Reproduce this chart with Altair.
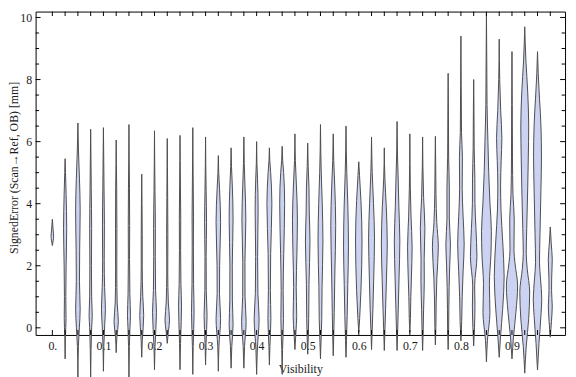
import altair as alt
import pandas as pd

# Visibility bins (one violin each)
visibility = [0.0, 0.025, 0.05, 0.075, 0.1, 0.125, 0.15, 0.175, 0.2, 0.225,
              0.25, 0.275, 0.3, 0.325, 0.35, 0.375, 0.4, 0.425, 0.45, 0.475,
              0.5, 0.525, 0.55, 0.575, 0.6, 0.625, 0.65, 0.675, 0.7, 0.725,
              0.75, 0.775, 0.8, 0.825, 0.85, 0.875, 0.9, 0.925, 0.95, 0.975]

# Violin profiles: (SignedError [mm], relative density half-width)
group_0 = [
    [(2.65, 0), (2.8, 0.8), (2.95, 1.3), (3.15, 0.8), (3.5, 0)],
    [(-1.0, 0), (-0.3, 0.3), (0.3, 0.9), (1.0, 0.7), (2.0, 1.0), (3.2, 1.6), (4.3, 1.0), (5.0, 0.4), (5.45, 0)],
    [(-1.6, 0), (-0.6, 0.5), (0.0, 1.5), (0.6, 2.3), (1.5, 1.6), (2.5, 1.8), (3.8, 2.3), (4.8, 1.6), (5.7, 0.6), (6.6, 0)],
    [(-1.6, 0), (-0.7, 0.4), (0.0, 1.0), (0.4, 1.6), (1.0, 1.0), (2.0, 0.8), (3.2, 1.0), (4.5, 0.6), (5.5, 0.3), (6.4, 0)],
]
group_1 = [
    [(-1.4, 0), (-0.6, 0.4), (0.1, 1.3), (0.6, 2.0), (1.3, 1.2), (2.2, 0.8), (3.3, 1.0), (4.5, 0.6), (5.5, 0.3), (6.45, 0)],
    [(-0.8, 0), (-0.3, 0.7), (0.2, 2.2), (0.8, 1.0), (1.8, 0.6), (3.2, 0.7), (4.5, 0.5), (5.3, 0.2), (6.05, 0)],
    [(-1.6, 0), (-0.6, 0.4), (0.0, 1.0), (0.4, 1.5), (1.1, 0.9), (2.2, 0.6), (3.3, 0.7), (4.5, 0.5), (5.5, 0.2), (6.55, 0)],
    [(-0.95, 0), (-0.4, 0.6), (0.4, 2.0), (1.0, 1.1), (2.0, 0.5), (3.0, 0.5), (4.0, 0.3), (4.95, 0)],
]
group_2 = [
    [(-1.35, 0), (-0.6, 0.5), (0.5, 2.0), (1.2, 1.1), (2.3, 0.8), (3.2, 0.9), (4.4, 0.5), (5.4, 0.2), (6.35, 0)],
    [(-0.5, 0), (-0.1, 1.2), (0.25, 2.3), (0.8, 1.1), (1.8, 0.5), (3.0, 0.6), (4.2, 0.4), (5.2, 0.2), (6.1, 0)],
    [(-1.35, 0), (-0.5, 0.5), (0.2, 1.2), (0.7, 1.5), (1.4, 0.9), (2.5, 0.6), (3.5, 0.7), (4.6, 0.4), (5.4, 0.2), (6.2, 0)],
    [(-1.5, 0), (-0.6, 0.4), (0.5, 1.3), (1.4, 0.8), (2.6, 0.6), (3.6, 0.7), (4.7, 0.4), (5.5, 0.2), (6.45, 0)],
]
group_3 = [
    [(-1.2, 0), (-0.5, 0.5), (0.4, 1.5), (1.2, 0.7), (2.3, 0.6), (3.4, 1.0), (4.4, 0.6), (5.3, 0.2), (6.15, 0)],
    [(-1.4, 0), (-0.6, 0.6), (0.3, 2.3), (1.1, 1.2), (2.0, 1.3), (3.4, 2.3), (4.5, 1.2), (5.0, 0.4), (5.55, 0)],
    [(-1.3, 0), (-0.6, 0.7), (0.1, 2.0), (0.9, 1.3), (2.0, 1.2), (3.5, 2.0), (4.6, 1.2), (5.2, 0.4), (5.8, 0)],
    [(-1.3, 0), (-0.6, 0.7), (0.2, 2.3), (1.0, 1.2), (2.1, 1.1), (3.5, 2.0), (4.6, 1.1), (5.3, 0.4), (6.15, 0)],
]
group_4 = [
    [(-1.5, 0), (-0.7, 0.7), (0.3, 2.5), (1.1, 1.3), (2.3, 1.0), (3.8, 1.5), (4.8, 0.9), (5.3, 0.3), (6.0, 0)],
    [(-1.2, 0), (-0.6, 0.5), (0.3, 1.5), (1.2, 1.0), (2.4, 1.3), (4.0, 2.5), (5.0, 1.3), (5.4, 0.4), (5.8, 0)],
    [(-1.5, 0), (-0.7, 0.4), (0.3, 1.3), (1.2, 1.0), (2.4, 1.6), (4.0, 2.5), (5.0, 1.5), (5.4, 0.5), (5.85, 0)],
    [(-0.7, 0), (-0.2, 0.9), (0.4, 1.8), (1.3, 1.3), (2.4, 2.0), (3.5, 2.5), (4.6, 1.5), (5.4, 0.4), (6.25, 0)],
]
group_5 = [
    [(-0.85, 0), (-0.3, 0.6), (0.3, 1.0), (1.4, 1.3), (2.8, 2.3), (3.7, 1.6), (4.5, 1.3), (5.2, 0.5), (5.95, 0)],
    [(-1.0, 0), (-0.4, 0.6), (0.3, 1.3), (1.3, 1.6), (2.8, 2.5), (4.0, 1.8), (5.0, 0.8), (5.7, 0.3), (6.55, 0)],
    [(-0.9, 0), (-0.3, 0.5), (0.5, 1.0), (1.7, 1.6), (3.3, 2.5), (4.6, 1.5), (5.4, 0.5), (6.25, 0)],
    [(-0.95, 0), (-0.4, 0.5), (0.4, 1.2), (1.4, 1.8), (2.6, 2.5), (3.9, 1.9), (5.0, 0.8), (5.7, 0.3), (6.5, 0)],
]
group_6 = [
    [(-0.15, 0), (0.3, 0.9), (1.2, 2.2), (2.8, 3.3), (4.1, 2.2), (4.9, 0.8), (5.35, 0)],
    [(-0.7, 0), (-0.2, 0.5), (0.6, 1.4), (1.7, 2.3), (2.9, 3.0), (4.0, 2.0), (5.0, 0.7), (5.5, 0.3), (6.15, 0)],
    [(-0.73, 0), (-0.2, 0.5), (0.6, 1.3), (1.6, 2.2), (2.7, 3.0), (3.9, 2.0), (4.8, 0.6), (5.8, 0)],
    [(-0.73, 0), (-0.2, 0.5), (0.6, 1.2), (1.6, 2.0), (2.8, 2.8), (3.9, 1.8), (4.7, 1.2), (5.6, 0.4), (6.65, 0)],
]
group_7 = [
    [(-0.15, 0), (0.3, 0.6), (1.0, 1.0), (1.6, 1.6), (2.6, 2.3), (3.6, 1.2), (4.5, 0.5), (5.3, 0.2), (6.25, 0)],
    [(-0.73, 0), (-0.2, 0.5), (0.6, 1.0), (1.5, 1.7), (2.2, 1.6), (3.2, 2.3), (4.2, 1.0), (5.2, 0.3), (6.15, 0)],
    [(-0.55, 0), (0.0, 0.5), (0.8, 0.8), (1.6, 1.5), (2.6, 3.0), (3.4, 1.4), (4.3, 0.6), (5.3, 0.3), (6.17, 0)],
    [(-0.7, 0), (-0.1, 0.5), (0.6, 0.7), (1.3, 1.0), (2.0, 1.6), (2.7, 2.3), (3.5, 1.2), (4.5, 1.2), (5.5, 0.5), (6.8, 0.3), (8.2, 0)],
]
group_8 = [
    [(-0.42, 0), (0.2, 0.8), (1.0, 1.3), (1.8, 2.2), (2.7, 3.3), (3.6, 2.2), (4.5, 1.3), (5.5, 1.5), (6.3, 0.6), (7.8, 0.3), (9.4, 0)],
    [(-0.58, 0), (0.0, 0.8), (0.7, 1.3), (1.35, 1.0), (2.3, 3.3), (3.2, 2.3), (4.0, 1.3), (4.8, 1.2), (5.8, 0.5), (7.0, 0.3), (8.0, 0)],
    [(-1.1, 0), (-0.4, 1.0), (0.5, 3.5), (1.4, 3.0), (2.4, 4.6), (3.1, 5.0), (4.0, 3.6), (5.0, 2.3), (6.0, 1.5), (7.2, 0.6), (8.7, 0.3), (10.15, 0)],
    [(-0.95, 0), (-0.3, 1.3), (0.6, 3.5), (1.65, 5.0), (2.8, 3.5), (3.8, 1.8), (4.6, 1.4), (5.4, 2.0), (6.1, 2.7), (7.0, 1.5), (8.0, 0.5), (9.3, 0)],
]
group_9 = [
    [(-1.0, 0), (-0.3, 1.5), (0.5, 4.0), (1.35, 5.7), (2.1, 3.0), (2.5, 2.0), (3.5, 2.3), (4.3, 1.0), (5.5, 0.5), (7.2, 0.3), (8.9, 0)],
    [(-1.46, 0), (-0.6, 1.5), (0.3, 4.0), (1.15, 5.0), (1.9, 2.5), (2.4, 1.5), (3.2, 2.0), (4.5, 3.0), (5.5, 3.6), (6.5, 4.0), (7.6, 3.0), (8.6, 1.2), (9.7, 0)],
    [(-1.36, 0), (-0.5, 1.5), (0.4, 3.5), (0.93, 4.3), (1.6, 3.0), (2.1, 2.0), (3.0, 2.5), (4.5, 3.5), (5.5, 4.0), (6.5, 3.5), (7.4, 2.0), (8.2, 0.7), (8.9, 0)],
    [(-0.3, 0), (0.2, 1.2), (0.7, 2.0), (1.2, 1.3), (1.6, 1.4), (2.2, 2.0), (2.7, 1.0), (3.25, 0)],
]
profiles = group_0 + group_1 + group_2 + group_3 + group_4 + group_5 + group_6 + group_7 + group_8 + group_9

y_major = [0, 2, 4, 6, 8, 10]
y_minor = [0.5, 1, 1.5, 2.5, 3, 3.5, 4.5, 5, 5.5, 6.5, 7, 7.5, 8.5, 9, 9.5]
x_label_values = [0, 0.1, 0.2, 0.3, 0.4, 0.5, 0.6, 0.7, 0.8, 0.9]

# ---- styling / layout constants ----
W, H = 537, 328
DENSITY_TO_X = 1 / 518.0
FONT = "Liberation Serif"
Y_TITLE = "SignedError (Scan\u2192Ref, OB) [mm]"
X_TITLE = "Visibility"

rows = []
for vis, prof in zip(visibility, profiles):
    for y, w in prof:
        rows.append({"vis": vis, "y": y,
                     "xl": vis - w * DENSITY_TO_X, "xr": vis + w * DENSITY_TO_X})
df = pd.DataFrame(rows)

x_scale = alt.Scale(domain=[-0.0328, 1.0039], nice=False, zero=False)
y_scale = alt.Scale(domain=[-0.23, 10.19], nice=False, zero=False)

y_axis = alt.Axis(values=y_major, labelPadding=4, titleX=-27, titleY=H / 2 - 6,
                  titleBaseline="top", titleAlign="center")
x_axis = alt.Axis(values=x_label_values, labelFlush=False,
                  labelExpr="datum.value == 0 ? '0.' : format(datum.value, '.1f')",
                  labelPadding=6, titlePadding=12)

violins = alt.Chart(df).mark_area(
    orient="horizontal", interpolate="monotone", fill="#cbd2f2",
    stroke="#4d4d4d", strokeWidth=1, clip=False
).encode(
    y=alt.Y("y:Q", scale=y_scale, axis=y_axis, title=Y_TITLE),
    x=alt.X("xl:Q", scale=x_scale, axis=x_axis, title=X_TITLE),
    x2="xr:Q",
    detail="vis:N",
)

tick_df = pd.DataFrame({"xl": visibility})
major_df = pd.DataFrame({"y": y_major})
minor_df = pd.DataFrame({"y": y_minor})

def yticks(data, x0, x1):
    return alt.Chart(data).mark_rule(color="black", strokeWidth=1).encode(
        y=alt.Y("y:Q", scale=y_scale, axis=y_axis, title=Y_TITLE),
        x=alt.value(x0), x2=alt.value(x1))

def xticks(y0, y1):
    return alt.Chart(tick_df).mark_rule(color="black", strokeWidth=1).encode(
        x=alt.X("xl:Q", scale=x_scale, axis=x_axis, title=X_TITLE),
        y=alt.value(y0), y2=alt.value(y1))

chart = alt.layer(
    violins,
    yticks(major_df, 0, 5), yticks(minor_df, 0, 3.5),
    yticks(major_df, W, W - 5), yticks(minor_df, W, W - 3.5),
    xticks(H, H - 5), xticks(0, 4.5),
).properties(
    width=W, height=H,
    autosize=alt.AutoSizeParams(type="none"),
    padding={"left": 28, "top": 1, "right": 3, "bottom": 40},
).configure_view(
    stroke="black", strokeWidth=1
).configure_axis(
    grid=False, domain=False, ticks=False,
    labelFont=FONT, labelFontSize=12, labelColor="#1a1a1a",
    titleFont=FONT, titleFontSize=12, titleColor="#1a1a1a", titleFontWeight="normal",
)

chart.save("out.html", embed_options={"renderer": "svg", "actions": False})
